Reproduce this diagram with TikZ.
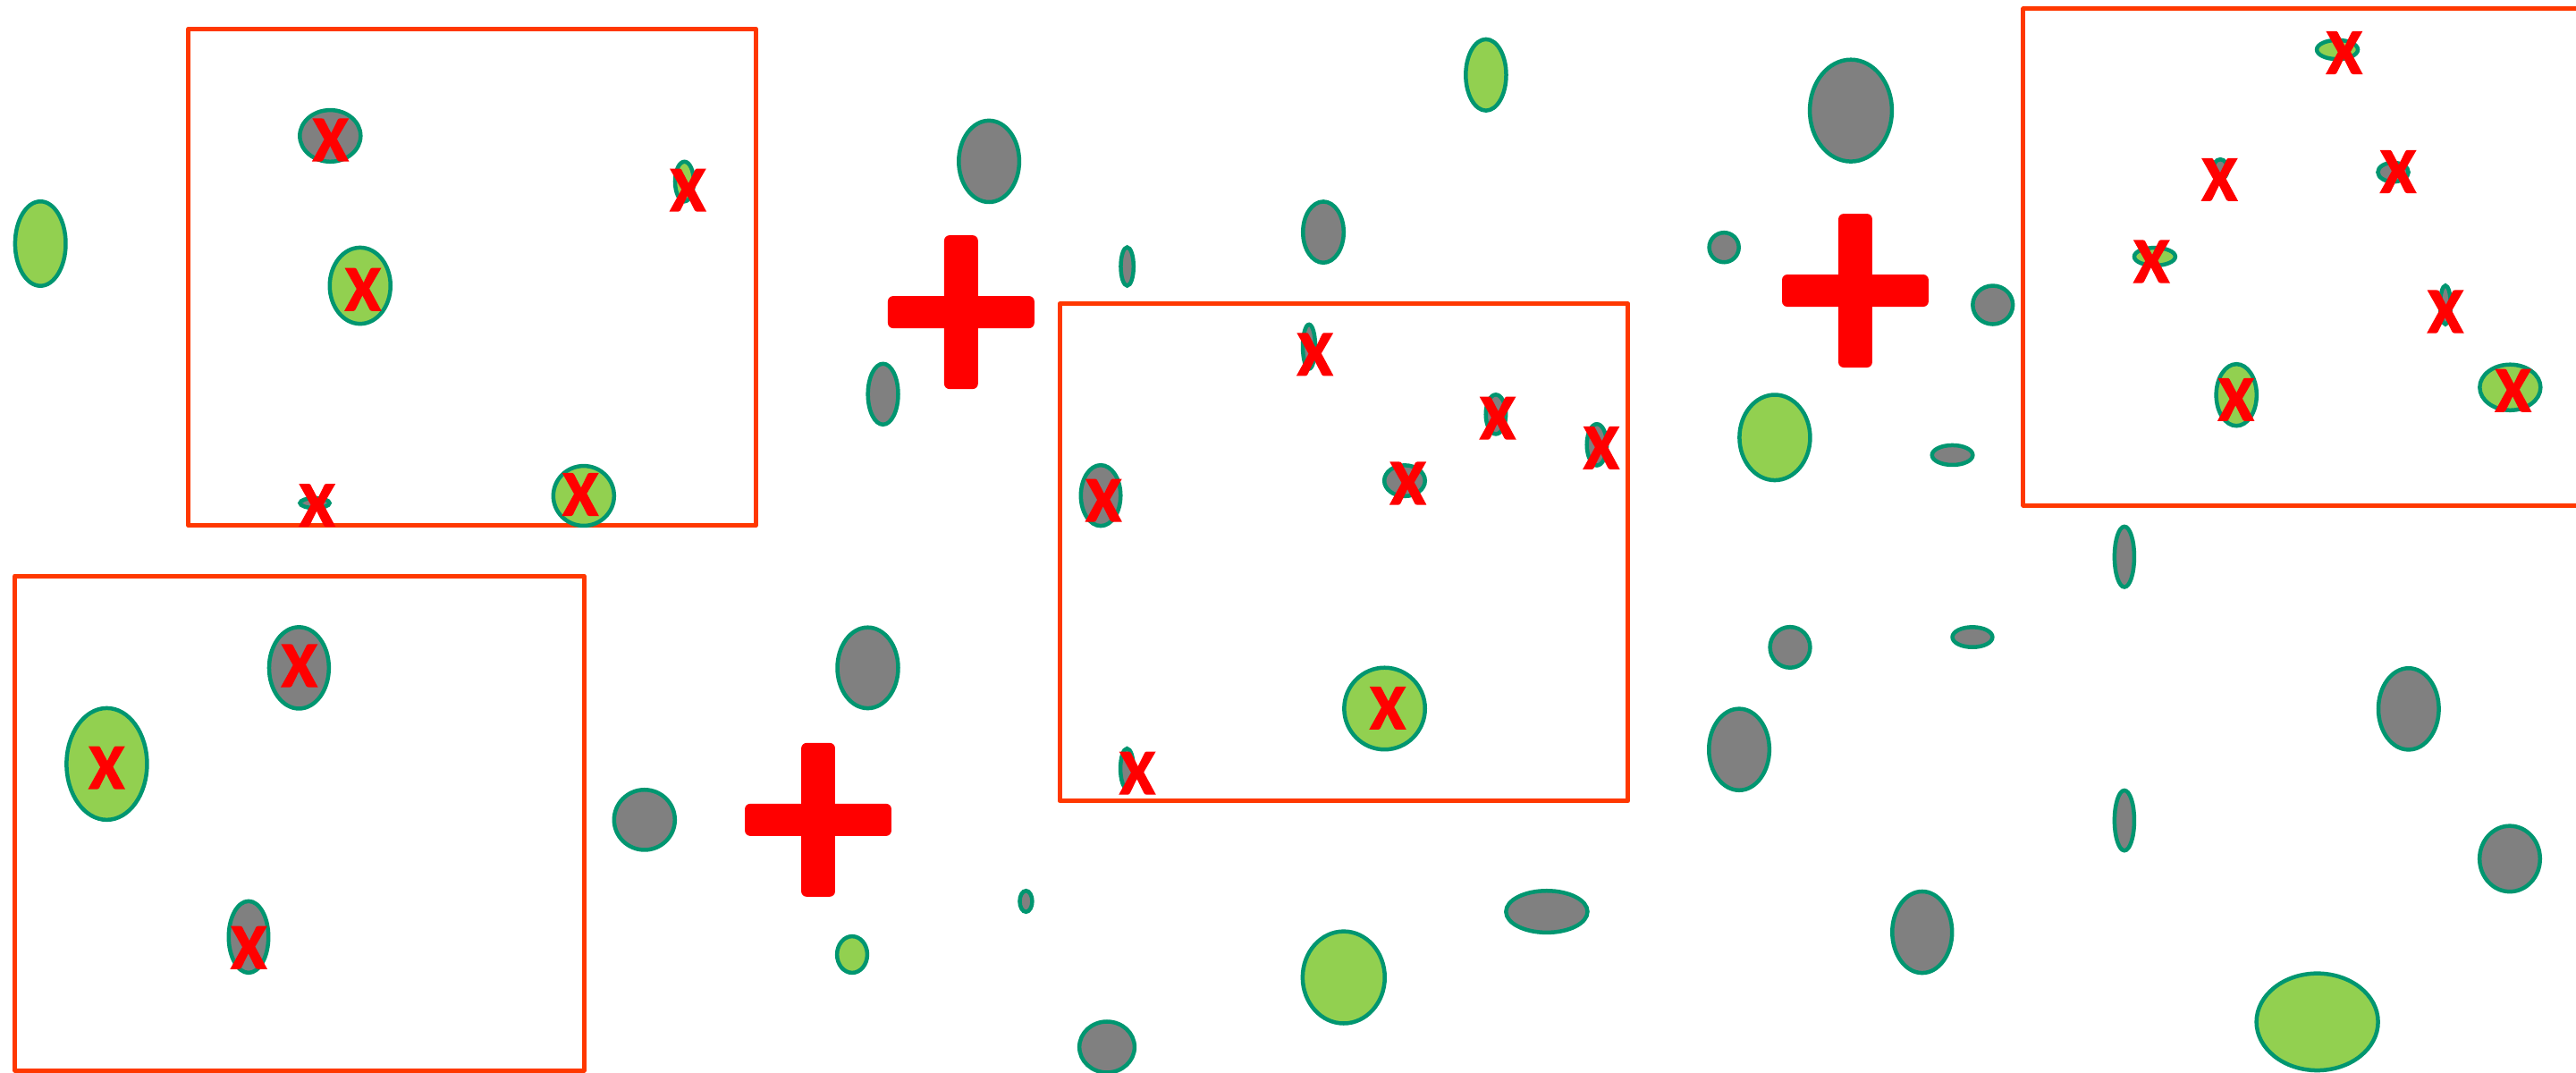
\documentclass[tikz,border=0pt]{standalone}
\usepackage{fontspec}
\newfontfamily\xfont{Carlito}[BoldFeatures={FakeBold=2}]
\definecolor{boxcol}{RGB}{255,56,0}
\definecolor{edgecol}{RGB}{0,150,112}
\definecolor{greyfill}{RGB}{128,128,128}
\definecolor{greenfill}{RGB}{146,208,80}
\definecolor{pluscol}{RGB}{255,0,0}
\tikzset{
  frame/.style={draw=boxcol,line width=5pt,line join=round},
  gr/.style={draw=edgecol,fill=greyfill,line width=4.5pt},
  gn/.style={draw=edgecol,fill=greenfill,line width=4.5pt},
  xmark/.style={text=pluscol,inner sep=0pt,anchor=center,font=\xfont\bfseries\fontsize{72}{72}\selectfont},
  plusbar/.style={fill=pluscol,rounded corners=6pt}
}
\newcommand\redplus[1]{%
  \begin{scope}[shift={#1}]
    \fill[plusbar] (-44.6,-9.8) rectangle (44.6,9.8);
    \fill[plusbar] (-10.3,-46.8) rectangle (10.3,46.8);
  \end{scope}}
\begin{document}
\begin{tikzpicture}[x=1.8374pt,y=-1.8374pt]
\useasboundingbox (0,0) rectangle (1568,653);
\fill[white] (0,0) rectangle (1568,653);

% frames
\draw[frame] (114.8,17.5) rectangle (460,320);
\draw[frame] (9.1,350.5) rectangle (355.4,651.5);
\draw[frame] (645,185) rectangle (991,487.5);
\draw[frame] (1231.6,5.4) rectangle (1585,307.6);

% plus signs
\redplus{(585,190)}
\redplus{(1129.3,176.9)}
\redplus{(498,499)}

% free ellipses
\draw[gn] (24.6,148.3) ellipse [x radius=15.4,y radius=25.7];
\draw[gr] (602,98.2) ellipse [x radius=18.4,y radius=24.8];
\draw[gn] (904.5,45.6) ellipse [x radius=12.3,y radius=21.7];
\draw[gr] (1126.6,67.3) ellipse [x radius=25,y radius=31];
\draw[gr] (686.1,162.2) ellipse [x radius=3.9,y radius=11.7];
\draw[gr] (805.5,141.3) ellipse [x radius=12.4,y radius=18.6];
\draw[gr] (1049.4,150.6) ellipse [x radius=9,y radius=9];
\draw[gr] (1213,185.6) ellipse [x radius=12.2,y radius=11.7];
\draw[gr] (537.5,239.9) ellipse [x radius=9.2,y radius=18.5];
\draw[gn] (1080.3,266.3) ellipse [x radius=21.5,y radius=26];
\draw[gr] (1188.4,277) ellipse [x radius=12.4,y radius=6];
\draw[gr] (1293.1,338.9) ellipse [x radius=6,y radius=18.4];
\draw[gr] (528.2,406.5) ellipse [x radius=18.5,y radius=24.6];
\draw[gr] (1089.6,394) ellipse [x radius=12.2,y radius=12.4];
\draw[gr] (1200.6,387.8) ellipse [x radius=12.2,y radius=6.1];
\draw[gr] (392.3,499) ellipse [x radius=18.5,y radius=18.3];
\draw[gr] (1058.6,456.2) ellipse [x radius=18.4,y radius=24.8];
\draw[gr] (1466.1,431.5) ellipse [x radius=18.4,y radius=24.8];
\draw[gr] (1293.1,499.4) ellipse [x radius=6,y radius=18.3];
\draw[gr] (1527.7,522.7) ellipse [x radius=18.4,y radius=20];
\draw[gr] (624.5,548.6) ellipse [x radius=3.8,y radius=6.4];
\draw[gn] (518.7,581) ellipse [x radius=9.2,y radius=11.1];
\draw[gr] (941.5,554.9) ellipse [x radius=24.8,y radius=12.7];
\draw[gr] (1170,567.4) ellipse [x radius=18.2,y radius=24.8];
\draw[gn] (817.9,594.9) ellipse [x radius=25,y radius=28];
\draw[gr] (673.8,637.3) ellipse [x radius=16.8,y radius=15.5];
\draw[gn] (1410.5,622) ellipse [x radius=37,y radius=29.5];

% ellipses inside frames
\draw[gr] (201,82.7) ellipse [x radius=18.5,y radius=15.7];
\draw[gn] (416.6,110.5) ellipse [x radius=5.7,y radius=12.1];
\draw[gn] (219.2,173.9) ellipse [x radius=18.5,y radius=23.2];
\draw[gr] (191.6,306.2) ellipse [x radius=9,y radius=3];
\draw[gn] (355.3,301.8) ellipse [x radius=18.5,y radius=18.2];

\draw[gr] (182,406.5) ellipse [x radius=18.2,y radius=24.8];
\draw[gn] (65,465) ellipse [x radius=24.5,y radius=34];
\draw[gr] (151.3,570.3) ellipse [x radius=12.1,y radius=21.8];

\draw[gr] (796.8,211) ellipse [x radius=3.8,y radius=13.5];
\draw[gr] (910.5,252.2) ellipse [x radius=6.1,y radius=12];
\draw[gr] (972,270.7) ellipse [x radius=6.1,y radius=12.6];
\draw[gr] (670,301.6) ellipse [x radius=12.1,y radius=18.5];
\draw[gr] (855,292.6) ellipse [x radius=12.4,y radius=9.4];
\draw[gn] (842.8,431.3) ellipse [x radius=24.6,y radius=24.9];
\draw[gr] (686,467.8) ellipse [x radius=4,y radius=12.2];

\draw[gn] (1422.7,30.2) ellipse [x radius=12.5,y radius=5.8];
\draw[gr] (1351.5,103) ellipse [x radius=4.5,y radius=6];
\draw[gr] (1456.7,104.8) ellipse [x radius=9.3,y radius=5.8];
\draw[gn] (1311.6,156.2) ellipse [x radius=12.5,y radius=5.4];
\draw[gr] (1488.5,185.6) ellipse [x radius=3.2,y radius=11.8];
\draw[gn] (1361.3,240.4) ellipse [x radius=12.3,y radius=18.8];
\draw[gn] (1527.9,235.8) ellipse [x radius=18.5,y radius=13.9];

% X marks
\node[xmark] (xa1) at (201.2,85.2) {X};
\node[xmark] (xa2) at (418.7,115.7) {X};
\node[xmark] (xa3) at (220.9,176.2) {X};
\node[xmark] (xa4) at (193,307.6) {X};
\node[xmark] (xa5) at (353.3,301) {X};

\node[xmark] (xb1) at (182.2,405.2) {X};
\node[xmark] (xb2) at (64.9,467.3) {X};
\node[xmark] (xb3) at (151.4,576.8) {X};

\node[xmark] (xc1) at (800.4,215.7) {X};
\node[xmark] (xc2) at (911.6,254.5) {X};
\node[xmark] (xc3) at (974.7,272.6) {X};
\node[xmark] (xc4) at (671.7,304.6) {X};
\node[xmark] (xc5) at (857,294.2) {X};
\node[xmark] (xc6) at (844.7,431) {X};
\node[xmark] (xc7) at (692.3,470.6) {X};

\node[xmark] (xd1) at (1426.9,32.1) {X};
\node[xmark] (xd2) at (1351,109.3) {X};
\node[xmark] (xd3) at (1459.7,104.5) {X};
\node[xmark] (xd4) at (1309.6,159.2) {X};
\node[xmark] (xd5) at (1488.5,189.7) {X};
\node[xmark] (xd6) at (1361,243.2) {X};
\node[xmark] (xd7) at (1529.7,237.7) {X};
\end{tikzpicture}
\end{document}
